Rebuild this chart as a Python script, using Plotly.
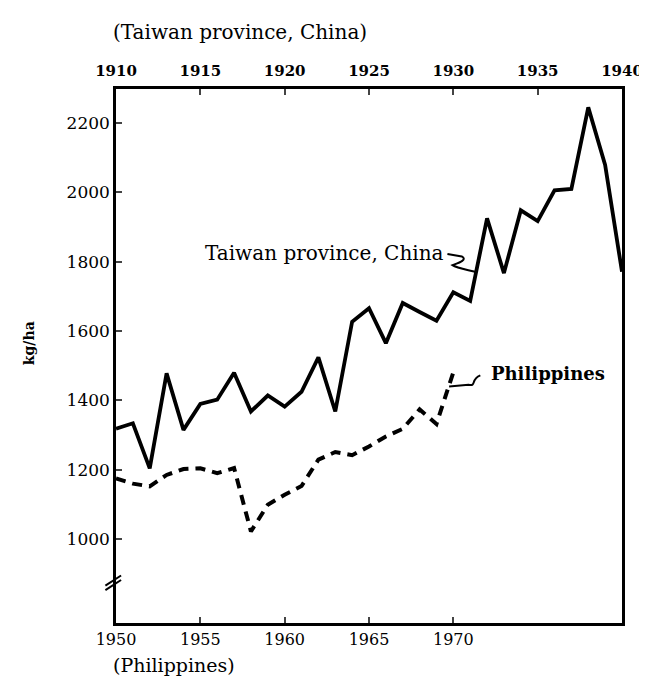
import plotly.graph_objects as go

# Taiwan province, China (top axis years)
taiwan_years = list(range(1910, 1941))
taiwan_yield = [1318, 1334, 1204, 1478, 1315, 1390, 1402, 1480, 1368, 1414,
                1382, 1425, 1524, 1368, 1627, 1666, 1565, 1681, 1655, 1630,
                1712, 1687, 1925, 1767, 1948, 1917, 2006, 2010, 2245, 2079, 1771]

# Philippines (bottom axis years)
phil_years = list(range(1950, 1971))
phil_yield = [1175, 1160, 1152, 1185, 1202, 1204, 1190, 1205, 1022, 1099,
              1128, 1153, 1229, 1251, 1242, 1267, 1296, 1318, 1374, 1332, 1481]

bottom_ticks = [1950, 1955, 1960, 1965, 1970]
top_ticks = [1910, 1915, 1920, 1925, 1930, 1935, 1940]
y_ticks = [1000, 1200, 1400, 1600, 1800, 2000, 2200]

FONT = "DejaVu Serif"

fig = go.Figure()
fig.add_trace(go.Scatter(x=phil_years, y=phil_yield, mode="lines", xaxis="x", yaxis="y",
                         line=dict(color="black", width=4, dash="10px,7px"), showlegend=False))
fig.add_trace(go.Scatter(x=taiwan_years, y=taiwan_yield, mode="lines", xaxis="x2", yaxis="y",
                         line=dict(color="black", width=3.8), showlegend=False))

fig.update_layout(
    width=647, height=679,
    margin=dict(l=108, r=26, t=81, b=64),
    paper_bgcolor="white", plot_bgcolor="white",
    font=dict(family=FONT, color="black", size=14),
    xaxis=dict(range=[1950, 1980], tickvals=bottom_ticks, ticks="inside", ticklen=6, tickwidth=2,
               showline=True, linewidth=2.5, linecolor="black", showgrid=False, zeroline=False,
               tickfont=dict(family=FONT, size=16)),
    xaxis2=dict(range=[1910, 1940], tickvals=top_ticks, overlaying="x", side="top", ticks="inside",
                ticklen=6, tickwidth=2, showline=True, linewidth=2.5, linecolor="black",
                showgrid=False, zeroline=False, ticklabelstandoff=4,
                tickfont=dict(family=FONT, size=15, weight="bold")),
    yaxis=dict(range=[758, 2298], tickvals=y_ticks, ticks="inside", ticklen=6, tickwidth=2,
               showline=True, mirror=True, linewidth=2.5, linecolor="black", showgrid=False,
               zeroline=False, tickfont=dict(family=FONT, size=17)),
)

annotations = [
    dict(text="(Taiwan province, China)", xref="paper", yref="paper", x=-0.01, y=1.0, yshift=57,
         xanchor="left", yanchor="middle", showarrow=False, font=dict(family=FONT, size=20)),
    dict(text="(Philippines)", xref="paper", yref="paper", x=-0.01, y=0.0, yshift=-42,
         xanchor="left", yanchor="middle", showarrow=False, font=dict(family=FONT, size=19)),
    dict(text="kg/ha", xref="paper", yref="paper", x=-0.172, y=0.524, textangle=-90,
         xanchor="center", yanchor="middle", showarrow=False,
         font=dict(family=FONT, size=14, weight="bold")),
    dict(text="Taiwan province, China", xref="x2", yref="y", x=1929.55, y=1825,
         xanchor="right", yanchor="middle", showarrow=False, font=dict(family=FONT, size=20)),
    dict(text="Philippines", xref="x", yref="y", x=1972.1, y=1478,
         xanchor="left", yanchor="middle", showarrow=False,
         font=dict(family=FONT, size=18, weight="bold")),
]
fig.update_layout(annotations=annotations)

shapes = [
    # leader for Taiwan label
    dict(type="path", xref="x2", yref="y",
         path="M 1929.65,1822 L 1930.5,1815 C 1930.9,1805 1930.2,1795 1929.95,1790 "
              "C 1930.2,1782 1930.7,1778 1931.35,1770",
         line=dict(color="black", width=2)),
    # leader for Philippines label
    dict(type="path", xref="x", yref="y",
         path="M 1969.75,1440 L 1970.9,1445 C 1971.4,1440 1971.0,1460 1971.6,1472",
         line=dict(color="black", width=2)),
    # axis break marks
    dict(type="line", xref="paper", yref="y", x0=-0.021, y0=853, x1=0.01, y1=882,
         line=dict(color="black", width=2)),
    dict(type="line", xref="paper", yref="y", x0=-0.021, y0=866, x1=0.01, y1=895,
         line=dict(color="black", width=2)),
]
fig.update_layout(shapes=shapes)

fig.write_html("out.html")
